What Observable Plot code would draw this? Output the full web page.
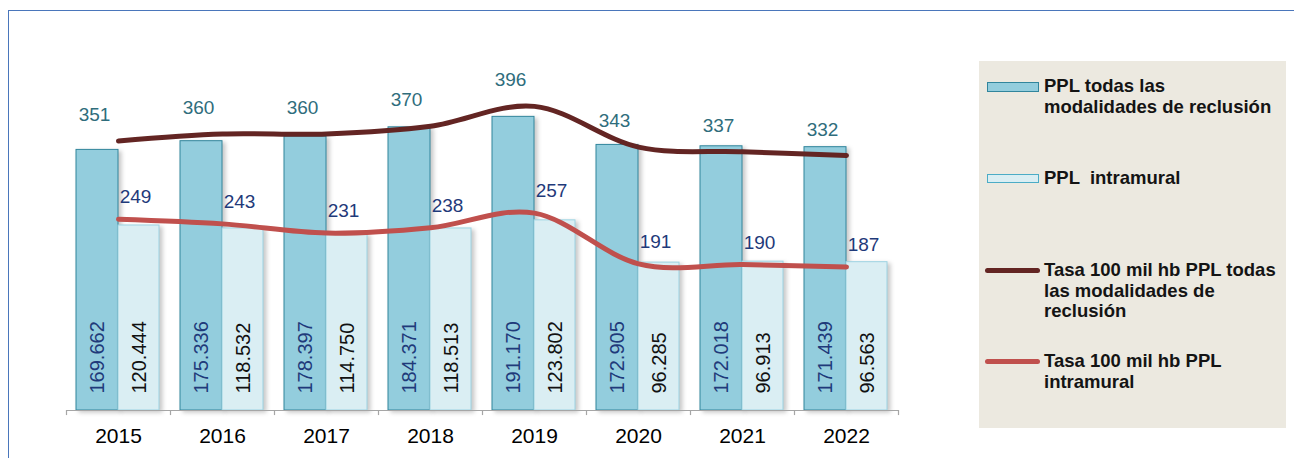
<!DOCTYPE html>
<html>
<head>
<meta charset="utf-8">
<script src="https://cdn.jsdelivr.net/npm/d3@7"></script>
<script src="https://cdn.jsdelivr.net/npm/@observablehq/plot@0.6"></script>
<style>
  html, body { margin: 0; padding: 0; background: #ffffff; }
  #wrap { position: relative; width: 1294px; height: 458px; overflow: hidden; font-family: "Liberation Sans", Arial, sans-serif; }
  #frame { position: absolute; left: 8px; top: 10px; right: 0; bottom: -5px; border-top: 1.5px solid #4A76BB; border-left: 1.5px solid #4A76BB; }
  #chart { position: absolute; left: 0; top: 0; }
  #legend { position: absolute; left: 979px; top: 61px; width: 307px; height: 367px; background: #ECE9E0; }
  .lg-text { position: absolute; left: 65px; font-weight: bold; font-size: 18.5px; line-height: 20.7px; color: #141414; white-space: pre; }
  .lg-sw { position: absolute; box-sizing: border-box; }
</style>
</head>
<body>
<div id="wrap">
  <div id="frame"></div>
  <div id="chart"></div>
  <div id="legend"></div>
</div>
<script>
// ---- data ----
const years = [2015, 2016, 2017, 2018, 2019, 2020, 2021, 2022];
const pplTotal = [169662, 175336, 178397, 184371, 191170, 172905, 172018, 171439];
const pplIntramural = [120444, 118532, 114750, 118513, 123802, 96285, 96913, 96563];
const tasaTotal = [351, 360, 360, 370, 396, 343, 337, 332];
const tasaIntramural = [249, 243, 231, 238, 257, 191, 190, 187];
const legendLabels = [
  ["PPL todas las", "modalidades de reclusión"],
  ["PPL  intramural"],
  ["Tasa 100 mil hb PPL todas", "las modalidades de", "reclusión"],
  ["Tasa 100 mil hb PPL", "intramural"]
];

// secondary axis (rates) mapped onto the bar axis: 500 rate units <-> 250000 persons
const rateFactor = 500;

const rows = years.map((year, i) => ({
  year,
  total: pplTotal[i],
  intra: pplIntramural[i],
  tTotal: tasaTotal[i],
  tIntra: tasaIntramural[i]
}));

const es = d3.formatLocale({decimal: ",", thousands: ".", grouping: [3], currency: ["", ""]});
const fmt = es.format(",d");

const colors = {
  barDark: "#93CDDD", barDarkStroke: "#31859C",
  barLight: "#DAEEF3", barLightStroke: "#9DD3E2",
  lineDark: "#632523", lineRed: "#C0504D",
  labTeal: "#2F6D7C", labNavy: "#1F3A7A"
};

const chart = Plot.plot({
  width: 1294,
  height: 458,
  marginLeft: 66,
  marginRight: 396,
  marginTop: 26,
  marginBottom: 48,
  style: {fontFamily: "'Liberation Sans', Arial, sans-serif", color: "#000", background: "transparent", overflow: "visible"},
  x: {type: "band", domain: years, padding: 0, label: null},
  y: {domain: [0, 250000], axis: null},
  marks: [
    Plot.barY(rows, {x: "year", y: "total", fill: colors.barDark, stroke: colors.barDarkStroke, strokeWidth: 1, insetLeft: 10, insetRight: 52}),
    Plot.barY(rows, {x: "year", y: "intra", fill: colors.barLight, stroke: colors.barLightStroke, strokeWidth: 1, insetLeft: 52, insetRight: 11}),
    Plot.ruleY([0], {stroke: "#A6A6A6", strokeWidth: 1.2}),
    Plot.ruleX(years, {x: d => d, y1: 0, y2: -3300, dx: -52, stroke: "#A6A6A6", strokeWidth: 1.2}),
    Plot.ruleX([years[years.length - 1]], {x: d => d, y1: 0, y2: -3300, dx: 52, stroke: "#A6A6A6", strokeWidth: 1.2}),
    Plot.axisX({tickSize: 0, tickPadding: 18, fontSize: 21, fill: "#000", label: null, tickFormat: d => String(d)}),
    Plot.text(rows, {x: "year", y: 0, text: d => fmt(d.total), rotate: -90, textAnchor: "start", dx: -21, dy: -17, fill: colors.labNavy, fontSize: 20}),
    Plot.text(rows, {x: "year", y: 0, text: d => fmt(d.intra), rotate: -90, textAnchor: "start", dx: 21, dy: -17, fill: "#111", fontSize: 20}),
    Plot.line(rows, {x: "year", y: d => d.tIntra * rateFactor, curve: "cardinal", stroke: colors.lineRed, strokeWidth: 5, strokeLinecap: "round"}),
    Plot.line(rows, {x: "year", y: d => d.tTotal * rateFactor, curve: "cardinal", stroke: colors.lineDark, strokeWidth: 5, strokeLinecap: "round"}),
    Plot.text(rows, {x: "year", y: d => d.tTotal * rateFactor, text: d => String(d.tTotal), dx: -24, dy: -26, fill: colors.labTeal, fontSize: 19}),
    Plot.text(rows, {x: "year", y: d => d.tIntra * rateFactor, text: d => String(d.tIntra), dx: 17, dy: -22, fill: colors.labNavy, fontSize: 19})
  ]
});

chart.querySelectorAll('g[aria-label="bar"]').forEach(g => {
  g.style.filter = "drop-shadow(3px 2px 2px rgba(0,0,0,0.22))";
});
document.getElementById("chart").appendChild(chart);

// ---- legend ----
const legend = document.getElementById("legend");
const swatches = [
  {kind: "rect", top: 21, height: 10, fill: colors.barDark, stroke: colors.barDarkStroke, textTop: 15},
  {kind: "rect", top: 113, height: 9, fill: colors.barLight, stroke: "#4BACC6", textTop: 107},
  {kind: "line", top: 206.5, color: colors.lineDark, textTop: 199},
  {kind: "line", top: 297.5, color: colors.lineRed, textTop: 290}
];
swatches.forEach((s, i) => {
  const sw = document.createElement("div");
  sw.className = "lg-sw";
  if (s.kind === "rect") {
    Object.assign(sw.style, {left: "8px", top: s.top + "px", width: "52px", height: s.height + "px", background: s.fill, border: "1px solid " + s.stroke});
  } else {
    Object.assign(sw.style, {left: "6px", top: s.top + "px", width: "55px", height: "5px", background: s.color, borderRadius: "3px"});
  }
  legend.appendChild(sw);
  const t = document.createElement("div");
  t.className = "lg-text";
  t.style.top = s.textTop + "px";
  t.textContent = legendLabels[i].join("\n");
  legend.appendChild(t);
});
</script>
</body>
</html>
